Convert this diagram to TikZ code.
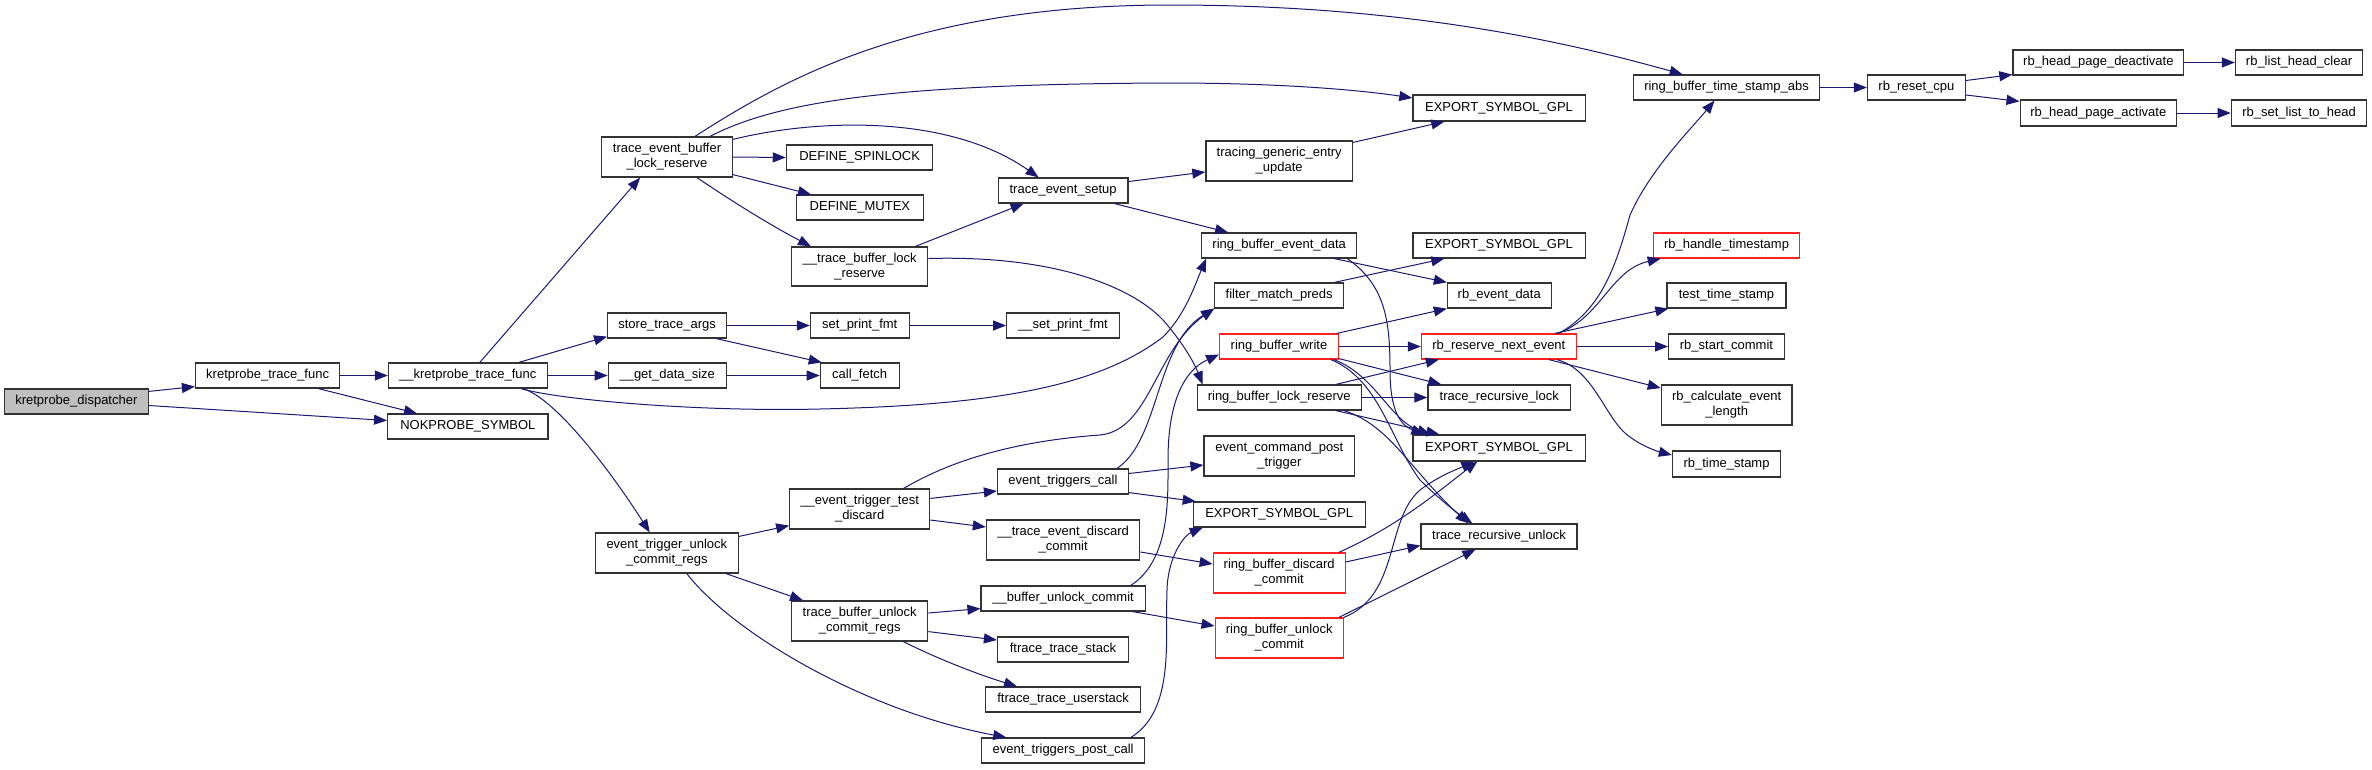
\documentclass[tikz,border=0pt]{standalone}
\usepackage{fontspec}
\setmainfont{Liberation Sans}
\usetikzlibrary{arrows.meta,calc}
\definecolor{edgec}{HTML}{191970}
\definecolor{rootfill}{HTML}{BFBFBF}
\definecolor{redb}{HTML}{FF2020}
\tikzset{
 fn/.style={draw=black!80, line width=1.2pt, rectangle, inner sep=0pt, align=center, font=\fontsize{13}{15}\selectfont, fill=white},
 rootfn/.style={fn, fill=rootfill},
 redfn/.style={fn, draw=redb},
 cg/.style={draw=edgec, line width=1pt, -{Triangle[length=13pt,width=10pt]}},
}
\newcommand{\nd}[7]{\node[#6, minimum width=#4pt, minimum height=#5pt] (#1) at (#2,#3) {#7};}
\begin{document}
\begin{tikzpicture}[x=1pt,y=-1pt]
\useasboundingbox (0,0) rectangle (2372,769);
% nodes
\nd{disp}{76.35}{401.5}{143.5}{25}{rootfn}{kretprobe\_dispatcher}
\nd{ktf}{267.65}{375.5}{144.3}{25}{fn}{kretprobe\_trace\_func}
\nd{uktf}{467.8}{375.5}{158.8}{25}{fn}{\_\_kretprobe\_trace\_func}
\nd{nok}{467.8}{426.5}{160.4}{25}{fn}{NOKPROBE\_SYMBOL}
\nd{teblr}{667}{157}{130.5}{40}{fn}{trace\_event\_buffer\\\_lock\_reserve}
\nd{spin}{859.6}{157.5}{146.5}{25}{fn}{DEFINE\_SPINLOCK}
\nd{mutex}{859.9}{207.5}{126.6}{25}{fn}{DEFINE\_MUTEX}
\nd{utblr}{859.7}{266.5}{136.2}{39}{fn}{\_\_trace\_buffer\_lock\\\_reserve}
\nd{tes}{1063.1}{190.5}{129.8}{25}{fn}{trace\_event\_setup}
\nd{sta}{667.1}{325.5}{119}{25}{fn}{store\_trace\_args}
\nd{spf}{859.75}{325.5}{98.7}{25}{fn}{set\_print\_fmt}
\nd{uspf}{1063}{325.5}{112.5}{25}{fn}{\_\_set\_print\_fmt}
\nd{gds}{667.25}{375.5}{117.9}{25}{fn}{\_\_get\_data\_size}
\nd{cf}{859.7}{375.5}{78.8}{25}{fn}{call\_fetch}
\nd{etucr}{666.85}{553}{143.1}{40}{fn}{event\_trigger\_unlock\\\_commit\_regs}
\nd{uettd}{859.7}{509}{140}{40}{fn}{\_\_event\_trigger\_test\\\_discard}
\nd{etc}{1062.9}{481.5}{130.8}{25}{fn}{event\_triggers\_call}
\nd{utedc}{1063.1}{540}{153.4}{40}{fn}{\_\_trace\_event\_discard\\\_commit}
\nd{ubuc}{1063.1}{598.5}{164.2}{25}{fn}{\_\_buffer\_unlock\_commit}
\nd{tbucr}{859.7}{621}{136.2}{40}{fn}{trace\_buffer\_unlock\\\_commit\_regs}
\nd{fts}{1062.9}{649.5}{130.8}{25}{fn}{ftrace\_trace\_stack}
\nd{ftus}{1063.1}{699.5}{155}{25}{fn}{ftrace\_trace\_userstack}
\nd{etpc}{1063.1}{750.5}{162.6}{25}{fn}{event\_triggers\_post\_call}
\nd{rbtsa}{1726.5}{87.5}{186.5}{25}{fn}{ring\_buffer\_time\_stamp\_abs}
\nd{esga}{1499}{108}{172.2}{26}{fn}{EXPORT\_SYMBOL\_GPL}
\nd{tgeu}{1279.2}{161}{146.6}{40}{fn}{tracing\_generic\_entry\\\_update}
\nd{rbed}{1279.2}{245.5}{155}{25}{fn}{ring\_buffer\_event\_data}
\nd{esgb}{1499}{245.5}{172.2}{25}{fn}{EXPORT\_SYMBOL\_GPL}
\nd{fmp}{1279.2}{295.5}{129}{25}{fn}{filter\_match\_preds}
\nd{rbevd}{1499.25}{295.5}{103.7}{25}{fn}{rb\_event\_data}
\nd{rbw}{1279}{346.5}{118.6}{25}{redfn}{ring\_buffer\_write}
\nd{rrne}{1498.85}{346.5}{154.9}{25}{redfn}{rb\_reserve\_next\_event}
\nd{rblr}{1279.2}{397.5}{164.2}{25}{fn}{ring\_buffer\_lock\_reserve}
\nd{trl}{1499.25}{397.5}{142.7}{25}{fn}{trace\_recursive\_lock}
\nd{esgc}{1499}{448}{172.2}{26}{fn}{EXPORT\_SYMBOL\_GPL}
\nd{ecpt}{1279.4}{456}{150.8}{40}{fn}{event\_command\_post\\\_trigger}
\nd{esgd}{1279.2}{514.5}{171.8}{25}{fn}{EXPORT\_SYMBOL\_GPL}
\nd{tru}{1499}{536.5}{156.1}{25}{fn}{trace\_recursive\_unlock}
\nd{rbdc}{1279.2}{573}{132}{40}{redfn}{ring\_buffer\_discard\\\_commit}
\nd{rbuc}{1279.2}{638}{128.2}{40}{redfn}{ring\_buffer\_unlock\\\_commit}
\nd{rbht}{1726.5}{245.5}{146.4}{25}{redfn}{rb\_handle\_timestamp}
\nd{tts}{1726.5}{295.5}{119}{25}{fn}{test\_time\_stamp}
\nd{rbsc}{1726.45}{346.5}{115.7}{25}{fn}{rb\_start\_commit}
\nd{rbcel}{1726.65}{405}{130.7}{40}{fn}{rb\_calculate\_event\\\_length}
\nd{rbts}{1726.55}{464}{108.3}{26}{fn}{rb\_time\_stamp}
\nd{rbrc}{1916.35}{87.5}{97.9}{25}{fn}{rb\_reset\_cpu}
\nd{rbhpd}{2098.35}{62.5}{170.9}{25}{fn}{rb\_head\_page\_deactivate}
\nd{rbhpa}{2098.3}{113}{156.4}{26}{fn}{rb\_head\_page\_activate}
\nd{rblhc}{2299.05}{62.5}{127.3}{25}{fn}{rb\_list\_head\_clear}
\nd{rbsl}{2299.05}{113}{135.5}{26}{fn}{rb\_set\_list\_to\_head}
% edges
\draw[cg] ($(disp.north east)+(0,3)$) -- ($(ktf.south west)+(0,-2)$);
\draw[cg] ($(disp.east)+(0,4)$) -- ($(nok.west)+(0,-6)$);
\draw[cg] (ktf.east) -- (uktf.west);
\draw[cg] ($(ktf.south east)+(-22,0)$) -- ($(nok.north west)+(30,0)$);
\draw[cg] ($(uktf.north)+(12,0)$) -- ($(teblr.south west)+(39,0)$);
\draw[cg] ($(uktf.north east)+(-29,0)$) -- ($(sta.south west)+(0,-2)$);
\draw[cg] (uktf.east) -- (gds.west);
\draw[cg] ($(uktf.south east)+(-25,0)$) .. controls (555,398) and (610,470) .. ($(etucr.north west)+(55,0)$);
\draw[cg] ($(uktf.south east)+(-27,0)$) .. controls (560,400) and (700,412) .. (820,409) .. controls (1000,405) and (1100,385) .. (1163,337) .. controls (1185,315) and (1195,285) .. ($(rbed.south west)+(5,0)$);
\draw[cg] ($(teblr.north)+(28,0)$) .. controls (790,75) and (920,5) .. (1170,5) .. controls (1400,5) and (1560,40) .. ($(rbtsa.north west)+(50,0)$);
\draw[cg] ($(teblr.north)+(43,0)$) .. controls (780,100) and (900,84) .. (1170,83) .. controls (1280,83) and (1360,90) .. ($(esga.west)+(0,-10)$);
\draw[cg] ($(teblr.north east)+(0,3)$) .. controls (820,118) and (950,115) .. ($(tes.north west)+(41,0)$);
\draw[cg] (teblr.east) -- (spin.west);
\draw[cg] ($(teblr.south east)+(0,-3)$) -- ($(mutex.north west)+(15,0)$);
\draw[cg] ($(teblr.south)+(30,0)$) .. controls (730,200) and (770,225) .. ($(utblr.north west)+(20,0)$);
\draw[cg] ($(utblr.north east)+(-13,0)$) -- ($(tes.south west)+(26,0)$);
\draw[cg] ($(utblr.east)+(0,-8)$) .. controls (1050,255) and (1130,285) .. (1163,320) .. controls (1185,345) and (1195,365) .. ($(rblr.north west)+(6,0)$);
\draw[cg] ($(tes.east)+(0,-9)$) -- ($(tgeu.west)+(0,11)$);
\draw[cg] ($(tes.south east)+(-14,0)$) -- ($(rbed.north west)+(27,0)$);
\draw[cg] ($(tgeu.north east)+(0,2)$) -- ($(esga.south west)+(32,0)$);
\draw[cg] (sta.east) -- (spf.west);
\draw[cg] ($(sta.south east)+(-11,0)$) -- ($(cf.north west)+(2,0)$);
\draw[cg] (spf.east) -- (uspf.west);
\draw[cg] (gds.east) -- (cf.west);
\draw[cg] ($(etucr.north east)+(0,4)$) -- ($(uettd.south west)+(0,-4)$);
\draw[cg] ($(etucr.south east)+(-13,0)$) -- ($(tbucr.north west)+(12,0)$);
\draw[cg] ($(etucr.south)+(20,0)$) .. controls (730,630) and (860,710) .. ($(etpc.north west)+(25,0)$);
\draw[cg] ($(uettd.north east)+(0,10)$) -- ($(etc.west)+(0,9.5)$);
\draw[cg] ($(uettd.east)+(0,11)$) -- ($(utedc.west)+(0,-13)$);
\draw[cg] ($(uettd.north)+(44,0)$) .. controls (960,455) and (1030,440) .. (1100,435) .. controls (1150,430) and (1155,350) .. (fmp.south west);
\draw[cg] ($(etc.north east)+(-12,0)$) .. controls (1160,440) and (1155,345) .. (fmp.south west);
\draw[cg] ($(etc.east)+(0,-8)$) -- ($(ecpt.west)+(0,9)$);
\draw[cg] ($(etc.south east)+(0,-2)$) -- ($(esgd.north west)+(3,0)$);
\draw[cg] ($(etpc.north east)+(-14,0)$) .. controls (1175,710) and (1165,640) .. (1167,590) .. controls (1168,555) and (1185,535) .. ($(esgd.south west)+(10,0)$);
\draw[cg] ($(utedc.east)+(0,12)$) -- ($(rbdc.west)+(0,-9)$);
\draw[cg] ($(ubuc.north east)+(-15,0)$) .. controls (1170,560) and (1168,500) .. (1168,460) .. controls (1168,400) and (1185,370) .. ($(rbw.west)+(0,8)$);
\draw[cg] ($(ubuc.south east)+(-13,0)$) -- ($(rbuc.west)+(0,-12)$);
\draw[cg] ($(tbucr.east)+(0,-8)$) -- ($(ubuc.south west)+(0,-3)$);
\draw[cg] ($(tbucr.south east)+(0,-10)$) -- ($(fts.west)+(0,-9.5)$);
\draw[cg] ($(tbucr.south east)+(-25,0)$) .. controls (940,660) and (980,675) .. ($(ftus.north west)+(32,0)$);
\draw[cg] ($(fmp.north east)+(-10,0)$) -- ($(esgb.south west)+(32,0)$);
\draw[cg] ($(rbed.south east)+(-23,0)$) -- (rbevd.north west);
\draw[cg] ($(rbed.south east)+(-10,0)$) .. controls (1385,285) and (1390,320) .. (1390,370) .. controls (1390,410) and (1400,425) .. ($(esgc.north west)+(12,0)$);
\draw[cg] ($(rbw.north east)+(-2,0)$) -- (rbevd.south west);
\draw[cg] (rbw.east) -- (rrne.west);
\draw[cg] ($(rbw.south east)+(0,-1)$) -- ($(trl.north west)+(14,0)$);
\draw[cg] ($(rbw.south east)+(-5,0)$) .. controls (1375,375) and (1390,420) .. ($(esgc.north west)+(18,0)$);
\draw[cg] ($(rbw.south east)+(-8,0)$) .. controls (1380,380) and (1390,440) .. (1420,480) .. controls (1440,500) and (1460,515) .. ($(tru.north west)+(52,0)$);
\draw[cg] ($(rblr.north east)+(-26,0)$) -- ($(rrne.south west)+(18,0)$);
\draw[cg] (rblr.east) -- (trl.west);
\draw[cg] ($(rblr.south east)+(-26,0)$) -- ($(esgc.north west)+(27,0)$);
\draw[cg] ($(rblr.south east)+(-18,0)$) .. controls (1390,425) and (1410,470) .. ($(tru.north west)+(48,0)$);
\draw[cg] ($(rbdc.north east)+(-7,0)$) .. controls (1400,525) and (1440,490) .. ($(esgc.south west)+(65,0)$);
\draw[cg] ($(rbdc.east)+(0,-11)$) -- ($(tru.west)+(0,9)$);
\draw[cg] ($(rbuc.north east)+(-5,0)$) -- ($(tru.south west)+(55,0)$);
\draw[cg] (rbuc.north east) .. controls (1400,595) and (1385,520) .. (1420,490) .. controls (1440,475) and (1460,468) .. ($(esgc.south west)+(62,0)$);
\draw[cg] ($(rrne.north east)+(-18,0)$) .. controls (1600,310) and (1615,270) .. (1630,215) .. controls (1650,170) and (1690,130) .. ($(rbtsa.south)+(-12,0)$);
\draw[cg] ($(rrne.north east)+(-20,0)$) .. controls (1600,320) and (1610,270) .. ($(rbht.south west)+(8,0)$);
\draw[cg] ($(rrne.north east)+(-22,0)$) -- ($(tts.south west)+(2,0)$);
\draw[cg] (rrne.east) -- (rbsc.west);
\draw[cg] ($(rrne.south east)+(-28,0)$) -- ($(rbcel.west)+(0,-17)$);
\draw[cg] ($(rrne.south east)+(-20,0)$) .. controls (1595,370) and (1605,420) .. (1630,437) .. controls (1645,448) and (1660,452) .. ($(rbts.west)+(0,-9)$);
\draw[cg] (rbtsa.east) -- (rbrc.west);
\draw[cg] ($(rbrc.east)+(0,-7)$) -- ($(rbhpd.south west)+(0,-1)$);
\draw[cg] ($(rbrc.east)+(0,7.5)$) -- ($(rbhpa.north west)+(0,2)$);
\draw[cg] (rbhpd.east) -- (rblhc.west);
\draw[cg] (rbhpa.east) -- (rbsl.west);
\end{tikzpicture}
\end{document}
